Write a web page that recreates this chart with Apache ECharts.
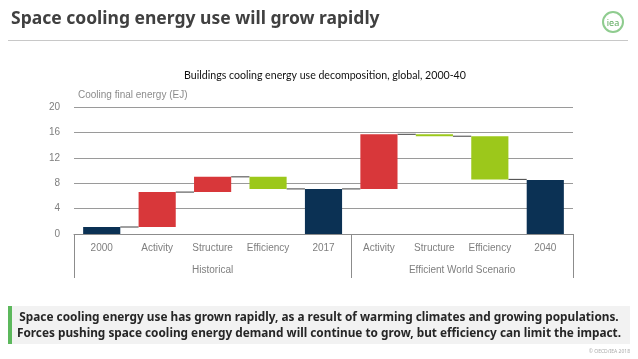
<!DOCTYPE html>
<html><head><meta charset="utf-8">
<script src="https://cdn.jsdelivr.net/npm/echarts@6/dist/echarts.min.js"></script>
<style>html,body{margin:0;padding:0;background:#fff}#c{width:638px;height:359px}</style>
</head><body><div id="c"></div>
<script>
const categories = ['2000','Activity','Structure','Efficiency','2017','Activity','Structure','Efficiency','2040'];
const groups = ['Historical','Efficient World Scenario'];
const kinds = ['total','change','change','change','total','change','change','change','total'];
const steps = [1.1, 5.5, 2.4, -1.9, 7.1, 8.6, -0.3, -6.8, 8.5];
const yTicks = [0, 4, 8, 12, 16, 20];

const NAVY = '#0B3154', RED = '#D8373A', GREEN = '#9CC81B';
// build waterfall from steps
let run = 0; const lows = [], highs = [], colors = [], ends = [];
steps.forEach((s, i) => {
  let a, b;
  if (kinds[i] === 'total') { a = 0; b = s; run = s; colors.push(NAVY); }
  else { a = run; b = run + s; run = b; colors.push(s >= 0 ? RED : GREEN); }
  lows.push(Math.min(a, b)); highs.push(Math.max(a, b)); ends.push(run);
});
const baseData = lows;
const barData = highs.map((h, i) => ({ value: +(h - lows[i]).toFixed(3), itemStyle: { color: colors[i] } }));
const connData = ends.slice(0, -1).map((v, i) => [i, v]);

const chart = echarts.init(document.getElementById('c'), null, { renderer: 'canvas' });
const lab = "'Liberation Sans Narrow','Liberation Sans',sans-serif";
chart.setOption({
  animation: false,
  title: { text: 'Buildings cooling energy use decomposition, global, 2000-40', left: 320, textAlign: 'center', top: 65,
    textStyle: { fontFamily: 'Lato', fontWeight: 'normal', fontSize: 10.6, color: '#111' } },
  grid: { left: 74, right: 65, top: 107, bottom: 125 },
  xAxis: [
    { type: 'category', data: categories, axisTick: { show: false },
      axisLine: { lineStyle: { color: '#8c8c8c', width: 1 } },
      axisLabel: { color: '#7f7f7f', fontSize: 10, fontFamily: lab, margin: 9 } },
    { type: 'value', min: 0, max: 9, position: 'bottom', axisLine: { show: false }, splitLine: { show: false },
      axisTick: { show: true, customValues: [0, 5, 9], length: 44, lineStyle: { color: '#8c8c8c' } },
      axisLabel: { customValues: [2.5, 7], color: '#7f7f7f', fontSize: 10, fontFamily: lab, margin: 31,
        formatter: v => v === 2.5 ? groups[0] : (v === 7 ? groups[1] : '') } }
  ],
  yAxis: { type: 'value', min: 0, max: 20, interval: 4,
    axisLine: { show: false }, axisTick: { show: false },
    splitLine: { lineStyle: { color: '#9a9a9a', width: 1 } },
    axisLabel: { color: '#7f7f7f', fontSize: 10, fontFamily: lab, margin: 14,
      customValues: yTicks } },
  series: [
    { type: 'bar', stack: 'w', data: baseData, itemStyle: { color: 'transparent' }, barWidth: '67%', silent: true },
    { type: 'bar', stack: 'w', data: barData, barWidth: '67%' },
    { type: 'custom', data: connData, z: 1,
      renderItem: (params, api) => {
        const i = api.value(0), v = api.value(1);
        const p1 = api.coord([i, v]), p2 = api.coord([i + 1, v]);
        const bw = api.size([1, 0])[0] * 0.67 / 2;
        return { type: 'line', shape: { x1: p1[0] + bw, y1: p1[1], x2: p2[0] - bw, y2: p2[1] },
          style: { stroke: '#404040', lineWidth: 1 } };
      } }
  ],
  graphic: [
    { type: 'text', left: 11, top: 10, style: { text: 'Space cooling energy use will grow rapidly',
      font: "bold 17.5px 'Noto Sans', sans-serif", fill: '#404040' } },
    { type: 'line', shape: { x1: 8, y1: 40.5, x2: 628, y2: 40.5 }, style: { stroke: '#c8c8c8', lineWidth: 1 } },
    { type: 'circle', shape: { cx: 613, cy: 22, r: 10 }, style: { fill: '#fff', stroke: '#8fcc8f', lineWidth: 2 } },
    { type: 'text', x: 613, y: 23, style: { text: 'iea', font: "9px 'Noto Sans', sans-serif", fill: '#5aa85a', align: 'center', verticalAlign: 'middle' } },
    { type: 'text', left: 78, top: 90, style: { text: 'Cooling final energy (EJ)', font: "10px " + lab, fill: '#8c8c8c' } },
    { type: 'rect', shape: { x: 8, y: 306, width: 622, height: 38 }, style: { fill: '#f2f2f2' } },
    { type: 'rect', shape: { x: 8, y: 306, width: 4, height: 38 }, style: { fill: '#5cb85c' } },
    { type: 'text', x: 319, y: 318, style: { text: 'Space cooling energy use has grown rapidly, as a result of warming climates and growing populations.',
      font: "bold 11.8px 'Noto Sans', sans-serif", fill: '#262626', align: 'center', verticalAlign: 'middle' } },
    { type: 'text', x: 319, y: 334, style: { text: 'Forces pushing space cooling energy demand will continue to grow, but efficiency can limit the impact.',
      font: "bold 11.8px 'Noto Sans', sans-serif", fill: '#262626', align: 'center', verticalAlign: 'middle' } },
    { type: 'text', right: 8, top: 349, style: { text: '© OECD/IEA 2018', font: "5px 'Noto Sans', sans-serif", fill: '#aaa' } }
  ]
});
</script></body></html>
